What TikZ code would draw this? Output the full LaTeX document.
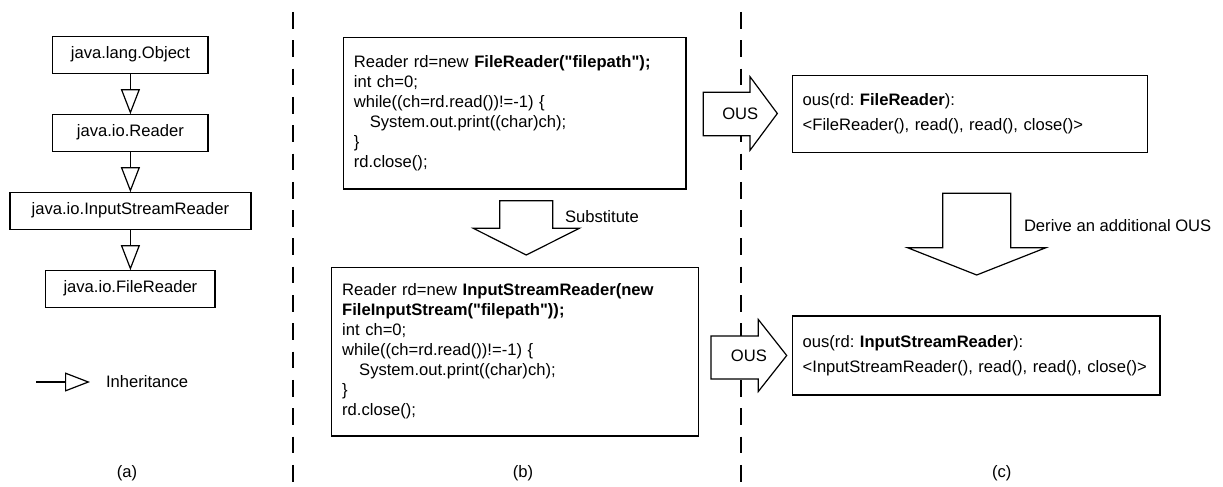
\documentclass[tikz,border=0pt]{standalone}
\usepackage{fontspec}
\setmainfont{Liberation Sans}
\usetikzlibrary{arrows.meta,positioning}
\frenchspacing

\begin{document}
\begin{tikzpicture}[x=1pt,y=-1pt,node distance=41pt,outer sep=0pt,inner sep=2pt,font=\fontsize{16.6}{20}\selectfont]
      \tikzset{classbox/.style={align=center,shape=rectangle,minimum height=37pt,draw,line width=1.2pt}}
      \tikzset{codebox/.style={align=left,shape=rectangle,draw,line width=1.2pt,inner xsep=10.5pt,inner ysep=0pt}}
      \tikzset{inherit/.style={line width=1.2pt,-{Triangle[open,length=25pt,width=19pt]}}}
      \tikzset{blockarrow/.style={draw,fill=white,line width=1.2pt,line join=miter}}
      \tikzset{separator/.style={line width=2pt,dash pattern=on 16.7pt off 11.6pt}}
      \useasboundingbox (0,0) rectangle (1223,487);

      % separators
      \draw [separator] (293,12) -- (293,487);
      \draw [separator] (740.7,12) -- (740.7,487);

      % (a) class hierarchy
      \node [classbox,minimum width=155.3pt] at (130.4,54.7) (object) {java.lang.Object};
      \node [classbox,minimum width=155.3pt,below=of object] (reader) {java.io.Reader};
      \node [classbox,minimum width=241pt,below=of reader] (isreader) {java.io.InputStreamReader};
      \node [classbox,minimum width=169.3pt,below=of isreader] (freader) {java.io.FileReader};
      \draw [inherit] (object) -- (reader);
      \draw [inherit] (reader) -- (isreader);
      \draw [inherit] (isreader) -- (freader);

      \coordinate (legstart) at (36,382);
      \coordinate (legtip) at (90,382);
      \draw [inherit] (legstart) -- (legtip);
      \node [anchor=west] at (104,382) (inhtext) {Inheritance};

      % (b) code
      \node [codebox,text width=321.7pt,minimum height=151.7pt] at (514.7,113.2) (code1)
        {Reader rd=new \textbf{FileReader(\textquotedbl filepath\textquotedbl);}\\
         int ch=0;\\
         while((ch=rd.read())!=-1) \{\\
         \hspace*{16pt}System.out.print((char)ch);\\
         \}\\
         rd.close();};
      \draw [blockarrow] (499.8,200.7) -- (552.8,200.7) -- (552.8,228.3) -- (579.3,228.3)
        -- (526.3,255) -- (473.3,228.3) -- (499.8,228.3) -- cycle;
      \node [anchor=west] at (563,217) (subst) {Substitute};
      \node [codebox,text width=345.6pt,minimum height=168.7pt] at (515,351.7) (code2)
        {Reader rd=new \textbf{InputStreamReader(new}\\
         \textbf{FileInputStream(\textquotedbl filepath\textquotedbl));}\\
         int ch=0;\\
         while((ch=rd.read())!=-1) \{\\
         \hspace*{17pt}System.out.print((char)ch);\\
         \}\\
         rd.close();};

      % (c) object usage sequences
      \draw [blockarrow] (703.3,92.3) -- (750,92.3) -- (750,76.7) -- (777.3,113.5)
        -- (750,150.3) -- (750,135.7) -- (703.3,135.7) -- cycle;
      \node at (740.3,113.5) (ous1) {OUS};
      \draw [blockarrow] (711,336) -- (758.3,336) -- (758.3,319.5) -- (786.7,355.5)
        -- (758.3,391.5) -- (758.3,379) -- (711,379) -- cycle;
      \node at (748.9,356) (ous2) {OUS};

      \node [codebox,inner xsep=10pt,text width=334.6pt,minimum height=77.4pt,font=\fontsize{16.6}{25}\selectfont] at (970,114) (seq1)
        {ous(rd: \textbf{FileReader}):\\
         <FileReader(), read(), read(), close()>};
      \draw [blockarrow] (942.7,193.3) -- (1010.7,193.3) -- (1010.7,247.7) -- (1045.9,247.7)
        -- (976.7,275) -- (907.5,247.7) -- (942.7,247.7) -- cycle;
      \node [anchor=west] at (1022,226) (derive) {Derive an additional OUS};
      \node [codebox,inner xsep=10pt,text width=347.3pt,minimum height=79pt,font=\fontsize{16.6}{25}\selectfont] at (976.35,355.5) (seq2)
        {ous(rd: \textbf{InputStreamReader}):\\
         <InputStreamReader(), read(), read(), close()>};

      % captions
      \node at (127,473) (capa) {(a)};
      \node at (523,473) (capb) {(b)};
      \node at (1001.7,473) (capc) {(c)};
\end{tikzpicture}
\end{document}
